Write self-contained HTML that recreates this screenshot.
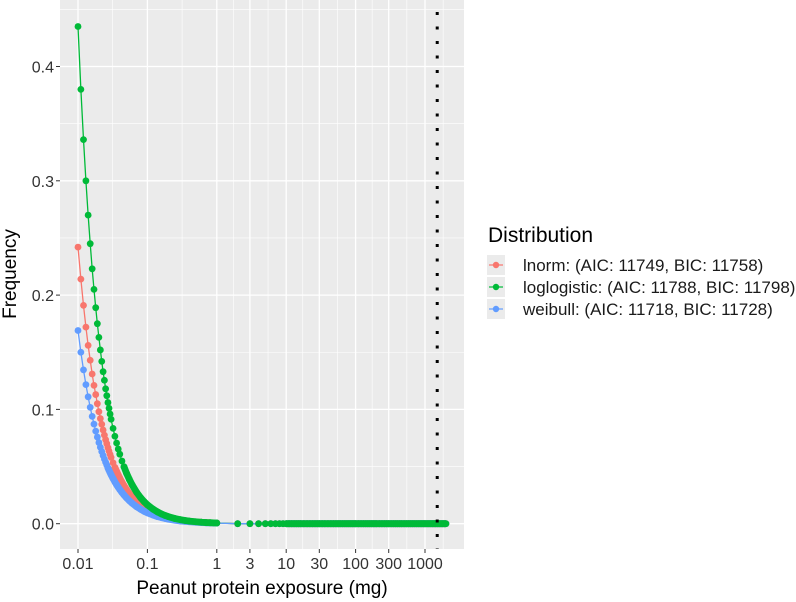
<!DOCTYPE html>
<html><head><meta charset="utf-8"><style>
html,body{margin:0;padding:0;background:#fff;}
svg{display:block;font-family:"Liberation Sans",Arial,sans-serif;}
</style></head><body>
<svg id="chart" width="796" height="602" viewBox="0 0 796 602">
<rect x="0" y="0" width="796" height="602" fill="#fff"/>
<rect x="60" y="0" width="404" height="549" fill="#ebebeb"/>
<g id="grid"></g><g id="lines"></g><g id="points"></g><g id="vline"></g><g id="axes"></g>
<text x="16" y="274" transform="rotate(-90 16 274)" text-anchor="middle" font-size="19" fill="#000">Frequency</text>
<text x="262" y="594" text-anchor="middle" font-size="19" fill="#000">Peanut protein exposure (mg)</text>
<g>
<text x="488" y="242" font-size="21" fill="#000">Distribution</text>
<g>
<rect x="487" y="255" width="18" height="20" fill="#ebebeb"/><line x1="489" y1="265" x2="503" y2="265" stroke="#F8766D" stroke-width="1.2"/><circle cx="496" cy="265" r="3.2" fill="#F8766D"/>
<text x="523" y="271" font-size="17" fill="#1a1a1a">lnorm: (AIC: 11749, BIC: 11758)</text></g>
<g>
<rect x="487" y="277" width="18" height="20" fill="#ebebeb"/><line x1="489" y1="287" x2="503" y2="287" stroke="#00BA38" stroke-width="1.2"/><circle cx="496" cy="287" r="3.2" fill="#00BA38"/>
<text x="523" y="293" font-size="17" fill="#1a1a1a">loglogistic: (AIC: 11788, BIC: 11798)</text></g>
<g>
<rect x="487" y="299" width="18" height="20" fill="#ebebeb"/><line x1="489" y1="309" x2="503" y2="309" stroke="#619CFF" stroke-width="1.2"/><circle cx="496" cy="309" r="3.2" fill="#619CFF"/>
<text x="523" y="315" font-size="17" fill="#1a1a1a">weibull: (AIC: 11718, BIC: 11728)</text></g>
</g>
</svg>
<script>
const xHead = [0.010,0.011,0.012,0.013,0.014,0.015,0.016,0.017,0.018,0.019,0.020,0.021,0.022,0.023,0.024,0.025,0.026,0.027,0.028,0.029,0.030,
0.032,0.034,0.036,0.038,0.040,0.043,0.046,0.050,0.055,0.060,
0.07,0.08,0.09,0.10,0.12,0.14,0.16,0.18,0.20,0.25,0.30,0.35,0.40,0.50,0.60,0.70,0.80,0.90,1.00];
const lnormY = [0.242,0.214,0.191,0.172,0.156,0.143,0.131,0.121,0.113,0.105,0.098,0.092,0.087,0.082,0.0775,0.0735,0.070,0.0665,0.0635,0.0606,0.058,
0.0533,0.0493,0.0458,0.0427,0.0399,0.0363,0.0333,0.0299,0.0264,0.0236,
0.0193,0.0162,0.0139,0.0121,0.0096,0.0078,0.0066,0.0056,0.0049,0.0037,0.0029,0.0024,0.002,0.0015,0.0012,0.001,0.0008,0.0007,0.0006];
const loglogisticY = [0.435,0.380,0.336,0.300,0.270,0.245,0.223,0.205,0.189,0.175,0.163,0.152,0.142,0.133,0.1255,0.118,0.112,0.106,0.101,0.096,0.0914,
0.0834,0.0765,0.0706,0.0653,0.0608,0.0548,0.0498,0.0442,0.0387,0.0342,
0.0274,0.0227,0.0192,0.0165,0.0128,0.0103,0.0085,0.0072,0.0062,0.0045,0.0035,0.0028,0.0023,0.0017,0.0013,0.001,0.0009,0.0007,0.0006];
const weibullY = [0.169,0.150,0.1346,0.1217,0.111,0.1018,0.0939,0.0871,0.081,0.0758,0.071,0.0669,0.0631,0.0597,0.0566,0.0538,0.0512,0.0488,0.0467,0.0447,0.0428,
0.0395,0.0366,0.0341,0.0319,0.0299,0.0273,0.0251,0.0226,0.0201,0.018,
0.0148,0.0126,0.0108,0.0095,0.0076,0.0062,0.0053,0.0046,0.004,0.003,0.0024,0.002,0.0017,0.0013,0.001,0.0008,0.0007,0.0006,0.0005];
const xTail = [2,3,4,5,6,7,8,9,10,11,12,13,14,15,16,18,20,22,24,26,28,30,33,36,40,44,48,52,56,60,65,70,75,80,85,90,95,100,110,120,130,140,150,160,170,180,190,200,220,240,260,280,300,325,350,375,400,430,460,500,540,580,620,660,700,750,800,850,900,950,1000,1070,1140,1210,1280,1350,1420,1500,1600,1700,1800,1900,2000];
const tailY = [0,0,0,0,0,0,0,0,0,0,0,0,0,0,0,0,0,0,0,0,0,0,0,0,0,0,0,0,0,0,0,0,0,0,0,0,0,0,0,0,0,0,0,0,0,0,0,0,0,0,0,0,0,0,0,0,0,0,0,0,0,0,0,0,0,0,0,0,0,0,0,0,0,0,0,0,0,0,0,0,0,0,0];
const xTicks = [0.01,0.1,1,3,10,30,100,300,1000];
const xTickLabels = ["0.01","0.1","1","3","10","30","100","300","1000"];
const yTicks = [0,0.1,0.2,0.3,0.4];
const yTickLabels = ["0.0","0.1","0.2","0.3","0.4"];
const thresholdX = 1500;

const NS="http://www.w3.org/2000/svg";
const PX0=60,PX1=464,PY0=0,PY1=549;
const R=3.4;
function sx(v){return 78+(Math.log10(v)+2)*69.4;}
function sy(v){return 523.7-v*1143;}
function mk(tag,attrs,parent){const e=document.createElementNS(NS,tag);for(const k in attrs)e.setAttribute(k,attrs[k]);parent.appendChild(e);return e;}
const grid=document.getElementById('grid');
for(let i=0;i<yTicks.length;i++){const m=yTicks[i]+0.05;
 const l=mk('line',{x1:PX0,x2:PX1,y1:sy(m),y2:sy(m),stroke:'#fff','stroke-width':0.6},grid);
 
 }
const lx=xTicks.map(Math.log10);
for(let i=0;i<lx.length;i++){const m=i<lx.length-1?(lx[i]+lx[i+1])/2:lx[i]+(lx[i]-lx[i-1])/2;
 const xx=78+(m+2)*69.4;if(xx>PX1)continue;
 const l=mk('line',{x1:xx,x2:xx,y1:PY0,y2:PY1,stroke:'#fff','stroke-width':0.6},grid);
 
 }
const axes=document.getElementById('axes');
yTicks.forEach((v,i)=>{
 const l=mk('line',{x1:PX0,x2:PX1,y1:sy(v),y2:sy(v),stroke:'#fff','stroke-width':1.3},grid);
 
 
 const t=mk('line',{x1:56,x2:60,y1:sy(v),y2:sy(v),stroke:'#333','stroke-width':1},axes);
 
 
 const tx=mk('text',{x:54,y:sy(v)+6,'text-anchor':'end','font-size':16,fill:'#333'},axes);
 tx.textContent=yTickLabels[i];
 
 
});
xTicks.forEach((v,i)=>{
 const l=mk('line',{x1:sx(v),x2:sx(v),y1:PY0,y2:PY1,stroke:'#fff','stroke-width':1.3},grid);
 
 
 const t=mk('line',{x1:sx(v),x2:sx(v),y1:549,y2:553,stroke:'#333','stroke-width':1},axes);
 
 
 const tx=mk('text',{x:sx(v),y:569,'text-anchor':'middle','font-size':16,fill:'#333'},axes);
 tx.textContent=xTickLabels[i];
 
 
});
const series=[
 {name:'lnorm',y:lnormY,c:'#F8766D'},
 {name:'loglogistic',y:loglogisticY,c:'#00BA38'},
 {name:'weibull',y:weibullY,c:'#619CFF'}];
const lines=document.getElementById('lines'),pts=document.getElementById('points');
series.forEach(s=>{
 const xs=xHead.concat(xTail),ys=s.y.concat(tailY);
 const d=xs.map((x,i)=>(i?'L':'M')+sx(x).toFixed(2)+' '+sy(ys[i]).toFixed(2)).join(' ');
 const p=mk('path',{d:d,fill:'none',stroke:s.c,'stroke-width':1.3},lines);
 
 
});
[series[0],series[2],series[1]].forEach(s=>{
 const g=mk('g',{fill:s.c},pts);
 
 
 const xs=xHead.concat(xTail),ys=s.y.concat(tailY);
 let d='';
 for(let i=1;i<xs.length;i++){
  const x0=sx(xs[i-1]),y0=sy(ys[i-1]),x1=sx(xs[i]),y1=sy(ys[i]);
  if(ys[i-1]<0.05 && xs[i]<=1) d+='M'+x0.toFixed(2)+' '+y0.toFixed(2)+'L'+x1.toFixed(2)+' '+y1.toFixed(2);
 }
 const b=mk('path',{d:d,fill:'none',stroke:s.c,'stroke-width':2*R,'stroke-linecap':'round'},g);
 
 
 xs.forEach((x,i)=>{
  const c=mk('circle',{cx:sx(x).toFixed(2),cy:sy(ys[i]).toFixed(2),r:R},g);
  
  
 });
 const t=mk('line',{x1:sx(xTail[8]),x2:sx(xTail[xTail.length-1]),y1:sy(tailY[0]),y2:sy(tailY[0]),stroke:s.c,'stroke-width':2*R},g);
 
 
});
const vl=mk('line',{x1:sx(thresholdX),x2:sx(thresholdX),y1:PY0+12,y2:PY1,stroke:'#000','stroke-width':3,'stroke-dasharray':'3 11.5'},document.getElementById('vline'));


</script>
</body></html>
